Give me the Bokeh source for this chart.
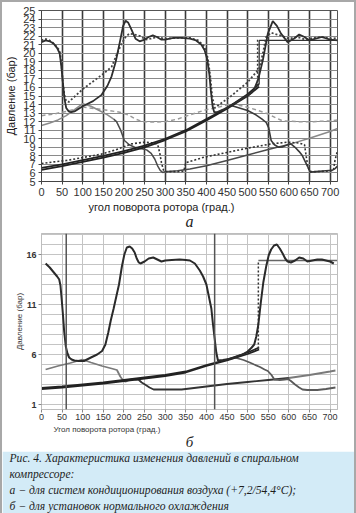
from bokeh.plotting import figure
from bokeh.layouts import column
from bokeh.models import Span, FixedTicker, SingleIntervalTicker, Range1d, Title
from bokeh.embed import file_html
from bokeh.resources import INLINE

# ---------------- chart (a) data ----------------
a_x_ticks = [0, 50, 100, 150, 200, 250, 300, 350, 400, 450, 500, 550, 600, 650, 700]
a_y_ticks = [5, 6, 7, 8, 9, 10, 11, 12, 13, 14, 15, 16, 17, 18, 19, 20, 21, 22, 23, 24, 25]

a_main_x = [0, 10, 20, 30, 38, 44, 48, 52, 56, 60, 66, 72, 80, 100, 125, 145, 160, 170, 180, 190, 198,
            204, 210, 218, 228, 238, 250, 260, 270, 280, 290, 300, 320, 340, 360, 375, 388, 396, 402,
            407, 411, 415, 419, 425, 440, 460, 480, 500, 510, 516, 526, 537, 549, 561, 571, 581, 597,
            612, 625, 638, 650, 665, 680, 700, 718]
a_main_y = [21.3, 21.5, 21.4, 21.1, 20.6, 20.0, 18.5, 16.5, 14.6, 13.6, 13.2, 13.1, 13.2, 13.8, 14.4,
            15.1, 16.2, 17.3, 19.0, 21.3, 23.2, 23.8, 23.6, 22.8, 21.7, 21.4, 21.6, 21.9, 22.1, 21.9,
            21.6, 21.6, 21.8, 21.8, 21.7, 21.5, 21.0, 20.3, 19.3, 17.6, 15.5, 13.8, 13.1, 13.1, 13.4,
            13.9, 14.5, 15.1, 15.4, 15.8, 17.0, 19.2, 22.3, 23.75, 23.2, 22.3, 21.3, 21.7, 22.2, 21.9,
            21.5, 21.7, 21.9, 21.6, 21.5]

a_dot_x = [0, 8, 16, 26, 36, 44, 48, 52, 56, 60, 66, 100, 125, 150, 170, 182, 194, 204, 213, 225, 240,
           252, 265, 280, 300, 330, 360, 380, 395, 403, 409, 414, 420, 460, 500, 528, 537, 545, 557,
           570, 585, 600, 620, 640, 660, 680, 700, 718]
a_dot_y = [21.5, 21.7, 21.6, 21.3, 20.8, 20.3, 19.0, 16.4, 15.0, 14.4, 14.3, 15.8, 16.7, 17.6, 18.4,
           19.8, 21.1, 21.9, 22.3, 22.2, 22.0, 21.6, 21.7, 21.9, 21.7, 21.8, 21.8, 21.5, 20.8, 19.5,
           17.5, 15.0, 13.6, 15.0, 16.6, 18.2, 20.0, 21.9, 22.4, 22.2, 22.0, 21.7, 21.9, 21.6, 21.8,
           21.9, 21.7, 21.8]

a_comp_x = [0, 50, 100, 150, 200, 250, 300, 350, 400, 450, 500, 528]
a_comp1_y = [6.6, 7.0, 7.5, 8.0, 8.55, 9.2, 10.0, 11.0, 12.3, 13.6, 15.2, 16.4]
a_comp2_y = [6.35, 6.8, 7.3, 7.8, 8.35, 9.0, 9.85, 10.85, 12.15, 13.5, 15.0, 16.1]

a_prev_x = [0, 20, 40, 60, 80, 100, 120, 140, 160, 175]
a_prev_y = [11.55, 11.85, 12.2, 12.7, 13.4, 14.1, 13.8, 13.3, 12.8, 12.3]

a_suc1_x = [175, 182, 192, 201, 213, 226, 240, 255, 266, 275, 282, 288, 294, 300, 330, 360, 400, 450,
            500, 550, 605]
a_suc1_y = [12.3, 12.0, 11.0, 9.8, 9.3, 9.0, 8.85, 8.7, 8.3, 7.6, 6.8, 6.3, 6.05, 6.15, 6.25, 6.45,
            6.85, 7.45, 8.1, 8.75, 9.4]

a_next_x = [605, 650, 700, 718]
a_next_y = [9.4, 10.05, 10.85, 11.2]

a_suc2_x = [460, 480, 500, 520, 535, 545, 551, 557, 565, 575, 585, 597, 605, 615, 625, 633, 640, 646,
            652, 665, 690, 705, 712, 718]
a_suc2_y = [13.9, 13.6, 13.3, 12.8, 12.3, 11.9, 11.3, 9.8, 9.3, 9.0, 9.05, 9.3, 9.4, 9.0, 8.5, 8.0,
            7.3, 6.7, 6.1, 6.15, 6.25, 6.3, 6.5, 6.8]

a_dsuc_x = [0, 30, 60, 100, 145, 180, 218, 250, 275, 282, 287, 291, 296, 300, 330, 345, 350, 395, 450,
            500, 557, 597, 625, 638, 642, 646, 651, 660, 690, 708, 712, 718]
a_dsuc_y = [7.1, 7.3, 7.45, 7.8, 8.2, 8.7, 9.4, 9.6, 9.5, 9.3, 8.3, 7.2, 6.3, 6.15, 6.15, 6.2, 7.2,
            7.85, 8.4, 8.9, 9.4, 9.6, 9.5, 9.3, 8.0, 6.7, 6.15, 6.15, 6.2, 6.3, 7.5, 8.6]

a_dash_x = [0, 30, 60, 100, 150, 190, 210, 228, 245, 270, 300, 330, 360, 400, 430, 460, 490, 520, 550,
            570, 585, 620, 660, 700, 718]
a_dash_y = [12.7, 12.9, 13.2, 13.7, 13.4, 13.1, 12.8, 12.3, 12.0, 11.95, 12.0, 12.3, 12.8, 13.4, 13.7,
            14.1, 13.8, 13.4, 12.9, 12.4, 12.1, 12.0, 12.0, 12.1, 12.2]

a_ideal_x = [528, 528, 718]
a_ideal_y = [16.4, 21.5, 21.5]
a_ideal_dot_x = [524, 524]
a_ideal_dot_y = [16.2, 21.6]

# ---------------- chart (b) data ----------------
b_x_ticks = [0, 50, 100, 150, 200, 250, 300, 350, 400, 450, 500, 550, 600, 650, 700]
b_y_ticks = [1, 6, 11, 16]
b_markers = [60, 420]

b_main_x = [10, 20, 30, 38, 43, 46, 49, 52, 55, 59, 63, 67, 73, 80, 90, 103, 120, 135, 147, 155, 162,
            168, 175, 182, 188, 195, 201, 207, 214, 220, 226, 231, 236, 240, 250, 260, 271, 281, 291,
            300, 316, 335, 350, 360, 372, 384, 392, 400, 406, 412, 416, 420, 424, 428, 440, 455, 468,
            485, 500, 510, 516, 521, 526, 532, 538, 545, 551, 557, 564, 571, 578, 585, 591, 597, 605,
            615, 625, 635, 645, 657, 669, 680, 690, 700, 709]
b_main_y = [15.1, 14.7, 14.2, 13.8, 13.5, 12.9, 11.5, 10.0, 8.3, 6.8, 6.1, 5.7, 5.5, 5.4, 5.35, 5.35,
            5.7, 6.0, 6.35, 7.0, 8.2, 9.4, 10.6, 11.9, 13.0, 14.8, 16.0, 16.7, 16.8, 16.6, 16.2, 15.6,
            15.2, 15.1, 15.3, 15.6, 15.7, 15.5, 15.3, 15.4, 15.45, 15.5, 15.45, 15.4, 15.1, 14.4, 13.8,
            13.0, 11.8, 10.6, 9.0, 7.6, 6.2, 5.4, 5.45, 5.55, 5.7, 5.95, 6.3, 6.7, 7.0, 7.8, 9.0, 11.2,
            13.2, 14.8, 15.9, 16.5, 16.9, 17.0, 16.6, 16.1, 15.6, 15.3, 15.2, 15.4, 15.7, 15.6, 15.3,
            15.4, 15.5, 15.5, 15.4, 15.3, 15.1]

b_comp_x = [0, 50, 100, 150, 200, 250, 300, 350, 400, 450, 500, 528]
b_comp1_y = [2.65, 2.8, 3.0, 3.2, 3.45, 3.7, 3.95, 4.3, 4.95, 5.5, 6.2, 6.7]
b_comp2_y = [2.55, 2.7, 2.9, 3.1, 3.35, 3.6, 3.85, 4.2, 4.85, 5.4, 6.05, 6.5]

b_prev_x = [10, 40, 70, 99, 120, 147, 170, 183, 191, 199, 205, 212, 220, 227]
b_prev_y = [4.5, 4.85, 5.15, 5.5, 5.2, 4.85, 4.6, 4.45, 3.8, 3.35, 3.3, 3.45, 3.5, 3.5]

b_suc1_x = [227, 235, 243, 251, 262, 272, 300, 340, 400, 450, 500, 550, 600]
b_suc1_y = [3.5, 3.5, 3.2, 3.0, 2.7, 2.5, 2.5, 2.5, 2.8, 3.05, 3.25, 3.45, 3.65]

b_next_x = [600, 650, 700, 713]
b_next_y = [3.65, 3.95, 4.3, 4.4]

b_suc2_x = [468, 490, 505, 516, 530, 541, 549, 557, 565, 578, 590, 598, 605, 615, 625, 633, 645, 669,
            690, 713]
b_suc2_y = [5.7, 5.45, 5.2, 5.0, 4.75, 4.5, 4.35, 4.0, 3.5, 3.45, 3.5, 3.55, 3.35, 3.0, 2.7, 2.5,
            2.45, 2.45, 2.55, 2.7]

b_ideal_x = [526, 717]
b_ideal_y = [15.4, 15.4]
b_ideal_dot_x = [526, 526]
b_ideal_dot_y = [6.6, 15.4]

caption_lines = [
    "Рис. 4. Характеристика изменения давлений в спиральном",
    "компрессоре:",
    "а − для систем кондиционирования воздуха (+7,2/54,4°С);",
    "б − для установок нормального охлаждения",
]

SANS = "Liberation Sans"
SERIF = "Liberation Serif"
CAPTION_BG = "#d3ebf7"

# ---------------- figure (a) ----------------
pa = figure(width=352, frame_height=171, x_range=Range1d(0, 718), y_range=Range1d(5, 25),
            output_backend="svg", toolbar_location=None,
            min_border_left=38, min_border_right=17, min_border_top=8, min_border_bottom=0)
pa.background_fill_color = "white"
pa.border_fill_color = "white"
pa.outline_line_color = "#555555"
pa.xaxis.ticker = FixedTicker(ticks=a_x_ticks)
pa.yaxis.ticker = FixedTicker(ticks=a_y_ticks)
for ax in (pa.xaxis[0], pa.yaxis[0]):
    ax.major_label_text_font = SANS
    ax.major_label_text_font_size = "11px"
    ax.major_label_text_color = "#333333"
    ax.axis_line_color = "#444444"
    ax.major_tick_line_color = "#444444"
    ax.major_tick_in = 0
    ax.major_tick_out = 3
    ax.minor_tick_line_color = None
    ax.major_label_standoff = 3
pa.yaxis.axis_label = "Давление (бар)"
pa.yaxis.axis_label_text_font = SANS
pa.yaxis.axis_label_text_font_size = "11px"
pa.yaxis.axis_label_text_font_style = "normal"
pa.yaxis.axis_label_text_color = "#222222"
pa.yaxis.axis_label_standoff = 3
pa.xgrid.grid_line_color = "#3a3a3a"
pa.xgrid.grid_line_width = 1.6
pa.ygrid.grid_line_color = "#8a8a8a"
pa.ygrid.grid_line_width = 1

pa.line(a_dash_x, a_dash_y, line_color="#9a9a9a", line_width=1.5, line_dash="4 3")
pa.line(a_prev_x, a_prev_y, line_color="#8a8a8a", line_width=1.5)
pa.line(a_next_x, a_next_y, line_color="#8a8a8a", line_width=1.5)
pa.line(a_suc1_x, a_suc1_y, line_color="#4a4a4a", line_width=1.5)
pa.line(a_suc2_x, a_suc2_y, line_color="#3a3a3a", line_width=1.6)
pa.line(a_dsuc_x, a_dsuc_y, line_color="#333333", line_width=1.6, line_dash="2 2")
pa.line(a_comp_x, a_comp2_y, line_color="#222222", line_width=1.8)
pa.line(a_comp_x, a_comp1_y, line_color="#222222", line_width=1.8)
pa.line(a_ideal_x, a_ideal_y, line_color="#333333", line_width=1.3)
pa.line(a_ideal_dot_x, a_ideal_dot_y, line_color="#333333", line_width=1.3, line_dash="2 2")
pa.line(a_dot_x, a_dot_y, line_color="#444444", line_width=1.8, line_dash="2 2")
pa.line(a_main_x, a_main_y, line_color="#2e2e2e", line_width=1.8)

pa.add_layout(Title(text="угол поворота ротора (град.)", align="left", offset=47, standoff=0,
                    text_font=SANS, text_font_size="11px", text_font_style="normal",
                    text_color="#222222"), "below")
pa.add_layout(Title(text="а", align="center", offset=-3, standoff=0, vertical_align="top",
                    text_font=SERIF, text_font_size="16px", text_font_style="italic",
                    text_color="#222222"), "below")

# ---------------- figure (b) ----------------
pb = figure(width=352, frame_height=176, x_range=Range1d(0, 718), y_range=Range1d(0.5, 18.1),
            output_backend="svg", toolbar_location=None,
            min_border_left=37, min_border_right=17, min_border_top=2, min_border_bottom=0)
pb.background_fill_color = "white"
pb.border_fill_color = "white"
pb.outline_line_color = "#bdbdbd"
pb.xaxis.ticker = FixedTicker(ticks=b_x_ticks)
pb.yaxis.ticker = FixedTicker(ticks=b_y_ticks)
for ax in (pb.xaxis[0], pb.yaxis[0]):
    ax.major_label_text_font = SANS
    ax.major_label_text_font_size = "9px"
    ax.major_label_text_color = "#333333"
    ax.axis_line_color = "#bdbdbd"
    ax.major_tick_line_color = "#888888"
    ax.major_tick_in = 0
    ax.major_tick_out = 3
    ax.minor_tick_line_color = None
pb.xaxis.major_label_standoff = 1
pb.yaxis.major_label_standoff = 2
pb.yaxis.major_label_text_font_style = "bold"
pb.xgrid.ticker = FixedTicker(ticks=b_x_ticks)
pb.ygrid.ticker = SingleIntervalTicker(interval=1)
pb.xgrid.grid_line_color = "#c4c4c4"
pb.ygrid.grid_line_color = "#c4c4c4"
pb.add_layout(Title(text="Давление (бар)", align="center", offset=-60, standoff=0,
                    text_font=SANS, text_font_size="8px", text_font_style="normal",
                    text_color="#333333"), "left")

for m in b_markers:
    pb.add_layout(Span(location=m, dimension="height", line_color="#555555", line_width=1.5))

pb.line(b_prev_x, b_prev_y, line_color="#7a7a7a", line_width=1.8)
pb.line(b_next_x, b_next_y, line_color="#7a7a7a", line_width=1.8)
pb.line(b_suc1_x, b_suc1_y, line_color="#333333", line_width=1.8)
pb.line(b_suc2_x, b_suc2_y, line_color="#5a5a5a", line_width=1.8)
pb.line(b_comp_x, b_comp2_y, line_color="#222222", line_width=1.8)
pb.line(b_comp_x, b_comp1_y, line_color="#222222", line_width=1.8)
pb.line(b_ideal_x, b_ideal_y, line_color="#666666", line_width=1.5)
pb.line(b_ideal_dot_x, b_ideal_dot_y, line_color="#333333", line_width=1.5, line_dash="2 2")
pb.line(b_main_x, b_main_y, line_color="#2a2a2a", line_width=2)

pb.add_layout(Title(text="Угол поворота ротора (град.)", align="left", offset=12, standoff=0,
                    text_font=SANS, text_font_size="8px", text_font_style="normal",
                    text_color="#333333"), "below")
pb.add_layout(Title(text="б", align="center", offset=-1, standoff=0, vertical_align="top",
                    text_font=SERIF, text_font_size="15px", text_font_style="italic",
                    text_color="#222222"), "below")

# ---------------- caption ----------------
pc = figure(width=352, height=62, x_range=Range1d(0, 1), y_range=Range1d(0, 1),
            output_backend="svg", toolbar_location=None, x_axis_type=None, y_axis_type=None,
            min_border_left=0, min_border_right=0, min_border_top=8, min_border_bottom=0)
pc.background_fill_color = CAPTION_BG
pc.border_fill_color = CAPTION_BG
pc.outline_line_color = None
pc.xgrid.visible = False
pc.ygrid.visible = False
for t in reversed(caption_lines):
    pc.add_layout(Title(text=t, align="left", offset=-32, standoff=1,
                        text_font=SERIF, text_font_style="italic", text_font_size="11.6px",
                        text_color="#1e1e1e"), "above")

layout = column(pa, pb, pc, spacing=0, styles={"border": "2px solid #a8a8a8"})

open("out.html", "w").write(file_html(layout, INLINE))
